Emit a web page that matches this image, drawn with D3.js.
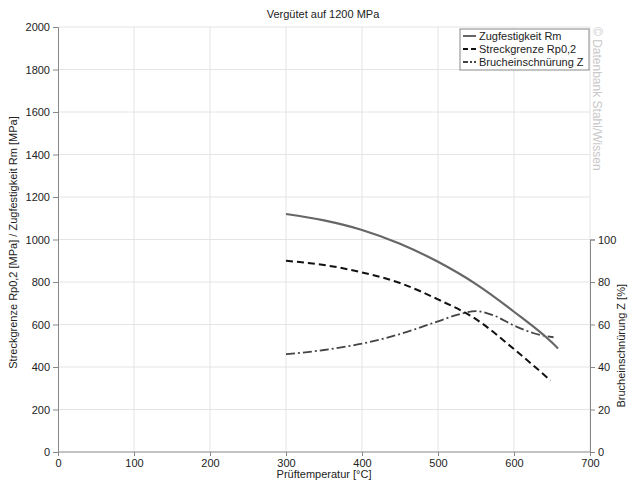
<!DOCTYPE html>
<html><head><meta charset="utf-8">
<script src="https://cdn.jsdelivr.net/npm/d3@7"></script>
<style>body{margin:0;background:#fff}svg{display:block;font-family:"Liberation Sans",Arial,sans-serif}</style>
</head><body><svg id="c" width="634" height="484"></svg>
<script>
const title = "Vergütet auf 1200 MPa";
const xTicks = [0,100,200,300,400,500,600,700];
const yTicks = [0,200,400,600,800,1000,1200,1400,1600,1800,2000];
const zTicks = [0,20,40,60,80,100];
const rmTemp = [300,350,400,450,500,550,600,650,658];
const rmVals = [1120,1090,1045,980,895,790,660,515,487];
const rpTemp = [300,350,400,450,500,550,600,648];
const rpVals = [900,880,845,795,718,625,484,337];
const zTemp = [300,350,400,450,500,525,550,575,600,625,652];
const zVals = [46,48,51,55.5,61.5,64.5,66.3,64,59.5,56,54];
const legendNames = ["Zugfestigkeit Rm","Streckgrenze Rp0,2","Brucheinschnürung Z"];

const svg = d3.select("#c");
const L=58,R=590,T=27,B=452;
const x = d3.scaleLinear().domain([0,700]).range([L,R]);
const y = d3.scaleLinear().domain([0,2000]).range([B,T]);
const yz = d3.scaleLinear().domain([0,100]).range([B,y(1000)]);
const axisCol="#888", gridCol="#e4e4e4";
const fmt = d3.format("d");

// grid
svg.append("g").selectAll("line").data(yTicks.slice(1)).join("line")
  .attr("x1",L).attr("x2",R).attr("y1",d=>y(d)).attr("y2",d=>y(d)).attr("stroke",gridCol);
svg.append("g").selectAll("line").data(xTicks.slice(1)).join("line")
  .attr("y1",T).attr("y2",B).attr("x1",d=>x(d)).attr("x2",d=>x(d)).attr("stroke",gridCol);

function styleAxis(g){
  g.selectAll("path,line").attr("stroke",axisCol);
  g.selectAll("text").attr("fill","#222").style("font-size","11px");
}
svg.append("g").attr("transform",`translate(0,${B})`)
  .call(d3.axisBottom(x).tickValues(xTicks).tickFormat(fmt).tickSizeOuter(0).tickSize(4)).call(styleAxis)
  .call(g=>g.select(".domain").attr("d",`M${L},0H${R}`));
svg.append("g").attr("transform",`translate(${L},0)`)
  .call(d3.axisLeft(y).tickValues(yTicks).tickFormat(fmt).tickSizeOuter(0).tickSize(5)).call(styleAxis);
svg.append("g").attr("transform",`translate(${R},0)`)
  .call(d3.axisRight(yz).tickValues(zTicks).tickFormat(fmt).tickSizeOuter(0).tickSize(5)).call(styleAxis);

// lines
const curve = d3.curveMonotoneX;
const lineL = d3.line().x(d=>x(d[0])).y(d=>y(d[1])).curve(curve);
const lineZ = d3.line().x(d=>x(d[0])).y(d=>yz(d[1])).curve(curve);
svg.append("path").attr("d",lineZ(d3.zip(zTemp,zVals))).attr("fill","none")
  .attr("stroke","#444").attr("stroke-width",1.8).attr("stroke-dasharray","9,3,2,3");
svg.append("path").attr("d",lineL(d3.zip(rpTemp,rpVals))).attr("fill","none")
  .attr("stroke","#111").attr("stroke-width",2).attr("stroke-dasharray","7,4");
svg.append("path").attr("d",lineL(d3.zip(rmTemp,rmVals))).attr("fill","none")
  .attr("stroke","#666").attr("stroke-width",2.2);

// title & labels
svg.append("text").attr("x",323).attr("y",18).attr("text-anchor","middle").style("font-size","11px").attr("fill","#222").text(title);
svg.append("text").attr("x",324).attr("y",478).attr("text-anchor","middle").style("font-size","11px").attr("fill","#222").text("Prüftemperatur [°C]");
svg.append("text").attr("transform",`translate(17,${(T+B)/2+3}) rotate(-90)`).attr("text-anchor","middle").style("font-size","11px").attr("fill","#222")
  .text("Streckgrenze Rp0,2 [MPa] / Zugfestigkeit Rm [MPa]");
svg.append("text").attr("transform",`translate(625,${yz(50)}) rotate(-90)`).attr("text-anchor","middle").style("font-size","11px").attr("fill","#222")
  .text("Brucheinschnürung Z [%]");
svg.append("text").attr("transform",`translate(593,27) rotate(90)`).attr("text-anchor","start").style("font-size","12px").attr("fill","#c8c8c8")
  .text("© Datenbank Stahl/Wissen");

// legend
const lg = svg.append("g");
lg.append("rect").attr("x",460).attr("y",29).attr("width",129).attr("height",41).attr("fill","#fff").attr("stroke","#888");
const dashes=[null,"5,3","5,2,2,2"], cols=["#666","#111","#444"];
legendNames.forEach((n,i)=>{
  const yy=36+i*13;
  lg.append("line").attr("x1",463).attr("x2",476).attr("y1",yy).attr("y2",yy).attr("stroke",cols[i]).attr("stroke-width",2).attr("stroke-dasharray",dashes[i]);
  lg.append("text").attr("x",479).attr("y",yy+4).style("font-size","11px").attr("fill","#222").text(n);
});
</script></body></html>
